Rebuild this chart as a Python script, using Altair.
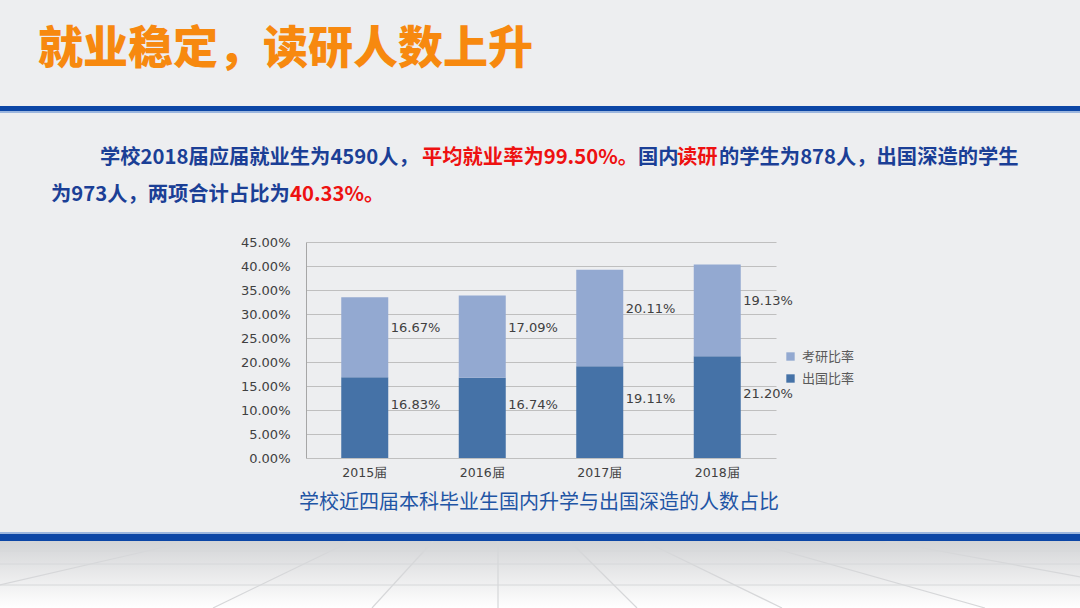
import altair as alt
import pandas as pd

# ---------------- data ----------------
years = ["2015届", "2016届", "2017届", "2018届"]
abroad_rate = [16.83, 16.74, 19.11, 21.20]   # 出国比率 (bottom)
kaoyan_rate = [16.67, 17.09, 20.11, 19.13]   # 考研比率 (top)
series_names = ["考研比率", "出国比率"]
series_colors = ["#93A9D1", "#4572A7"]
y_tick_values = [0, 0.05, 0.10, 0.15, 0.20, 0.25, 0.30, 0.35, 0.40, 0.45]

page_title = "就业稳定，读研人数上升"
caption = "学校近四届本科毕业生国内升学与出国深造的人数占比"
# paragraph segments: (text, colour key)
line1 = [("学校2018届应届就业生为4590人，", "b"), ("平均就业率为99.50%。", "r"),
         ("国内", "b"), ("读研", "r"), ("的学生为878人，出国深造的学生", "b")]
line2 = [("为973人，两项合计占比为", "b"), ("40.33%。", "r")]

rows = []
for i, yr in enumerate(years):
    a = abroad_rate[i] / 100
    k = kaoyan_rate[i] / 100
    rows.append(dict(year=yr, series="出国比率", value=a, order=0, mid=a / 2,
                     label=f"{abroad_rate[i]:.2f}%"))
    rows.append(dict(year=yr, series="考研比率", value=k, order=1, mid=a + k / 2,
                     label=f"{kaoyan_rate[i]:.2f}%"))
df = pd.DataFrame(rows)

# ---------------- layout ----------------
X0, Y0 = 306, 242          # plot origin on the page
W, H = 470, 216            # plot area
PAGE_W, PAGE_H = 1080, 608


def px(x):
    return x - X0


def py(y):
    return y - Y0


one = pd.DataFrame({"k": [0]})
BLUE_TXT = "#1B3F96"
RED_TXT = "#EE1111"
CJK = "Noto Sans CJK SC"


def rect(x1, x2, y1, y2, color):
    return alt.Chart(one).mark_rect(color=color).encode(
        x=alt.value(px(x1)), x2=alt.value(px(x2)),
        y=alt.value(py(y1)), y2=alt.value(py(y2)))


def text(x, y, s, **kw):
    return alt.Chart(one).mark_text(baseline="middle", **kw).encode(
        x=alt.value(px(x)), y=alt.value(py(y)), text=alt.value(s))


# ---------------- decoration ----------------
floor = alt.Chart(one).mark_rect(
    color=alt.Gradient(gradient="linear",
                       stops=[alt.GradientStop(color="#D3D4D6", offset=0),
                              alt.GradientStop(color="#FFFFFF", offset=1)],
                       x1=0, x2=0, y1=0, y2=1)
).encode(x=alt.value(px(0)), x2=alt.value(px(PAGE_W)),
         y=alt.value(py(541)), y2=alt.value(py(PAGE_H)))

# perspective floor lines (decor, page pixels)
decor_bottom_x = [-400, -100, 213, 372, 498, 637, 782, 985, 1250, 1600]
vp_x, vp_y = 498, 470
decor = []
for xb in decor_bottom_x:
    t = (541 - vp_y) / (PAGE_H - vp_y)
    xt = vp_x + (xb - vp_x) * t
    decor.append(dict(x=px(xt), x2=px(xb), y=py(541), y2=py(PAGE_H)))
for yh in [551, 564, 585]:
    decor.append(dict(x=px(0), x2=px(PAGE_W), y=py(yh), y2=py(yh)))
floor_lines = alt.Chart(pd.DataFrame(decor)).mark_rule(
    color="#D6D7D9", strokeWidth=1.2).encode(
    x=alt.X("x:Q", scale=None), x2="x2:Q",
    y=alt.Y("y:Q", scale=None), y2="y2:Q")

top_band = rect(0, PAGE_W, 106, 111, "#0C46A6")
top_band2 = rect(0, PAGE_W, 111, 113, "#9CB6DE")
bot_band0 = rect(0, PAGE_W, 532, 534, "#9CB6DE")
bot_band = rect(0, PAGE_W, 534, 541, "#0C46A6")

title_txt = text(38, 50, page_title, align="left", font=CJK, fontSize=45,
                 fontWeight=900, color="#F7890F")

para = []
l1_x = [100, 422, 638, 677, 719]
for (s, c), xx in zip(line1, l1_x):
    para.append(text(xx, 158, s, align="left", font=CJK, fontSize=20.3,
                     fontWeight="bold", color=BLUE_TXT if c == "b" else RED_TXT))
l2_x = [51, 290]
for (s, c), xx in zip(line2, l2_x):
    para.append(text(xx, 195, s, align="left", font=CJK, fontSize=20.3,
                     fontWeight="bold", color=BLUE_TXT if c == "b" else RED_TXT))

cap_txt = text(539, 503, caption, align="center", font=CJK, fontSize=20,
               color="#1F55A5")

# ---------------- chart ----------------
x_axis = alt.Axis(title=None, labelAngle=0, ticks=False, domain=False,
                  grid=False, labelPadding=8, labelFont="DejaVu Sans",
                  labelFontSize=12.5, labelColor="#404040")
y_axis = alt.Axis(title=None, format=".2%", values=y_tick_values,
                  ticks=False, labelPadding=16, domain=True, labelOverlap=False,
                  domainColor="#A6A6A6", grid=True, gridColor="#BFBFBF",
                  labelFont="DejaVu Sans", labelFontSize=13,
                  labelColor="#404040")
x_scale = alt.Scale(paddingInner=0.6, paddingOuter=0.3)
y_scale = alt.Scale(domain=[0, 0.45], nice=False)

bars = alt.Chart(df).mark_bar().encode(
    x=alt.X("year:N", sort=years, scale=x_scale, axis=x_axis),
    y=alt.Y("value:Q", stack="zero", scale=y_scale, axis=y_axis),
    color=alt.Color("series:N",
                    scale=alt.Scale(domain=series_names, range=series_colors),
                    legend=alt.Legend(title=None, orient="none", legendX=478,
                                      legendY=108, symbolType="square",
                                      symbolSize=70, symbolStrokeWidth=0,
                                      labelFont=CJK, labelFontSize=13,
                                      labelColor="#595959", rowPadding=8,
                                      labelOffset=5)),
    order=alt.Order("order:Q"),
)


def labels(series, dy):
    return alt.Chart(df).transform_filter(
        alt.datum.series == series
    ).mark_text(align="left", baseline="middle", dx=26, dy=dy,
                font="DejaVu Sans", fontSize=13, color="#404040").encode(
        x=alt.X("year:N", sort=years, scale=x_scale, axis=x_axis),
        y=alt.Y("mid:Q", scale=y_scale, axis=y_axis),
        text="label:N")


chart = alt.layer(
    floor, floor_lines, top_band, top_band2, bot_band0, bot_band,
    title_txt, *para, cap_txt,
    bars, labels("出国比率", -13), labels("考研比率", -9),
).properties(
    width=W, height=H,
    padding={"left": X0, "top": Y0, "right": PAGE_W - X0 - W,
             "bottom": PAGE_H - Y0 - H},
    autosize=alt.AutoSizeParams(type="none"),
).configure(background="#EDEEF0").configure_view(stroke=None)

chart.save("out.html", embed_options={"renderer": "svg", "actions": False})
